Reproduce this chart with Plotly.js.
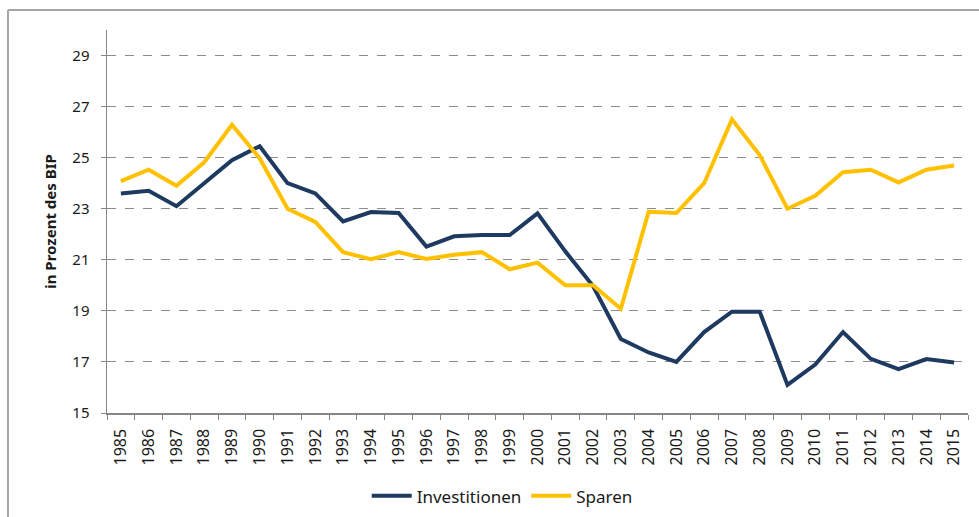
<!DOCTYPE html>
<html>
<head>
<meta charset="utf-8">
<script src="https://cdn.plot.ly/plotly-3.0.1.min.js"></script>
<style>html,body{margin:0;padding:0;background:#fff;}#chart{width:979px;height:517px;}</style>
</head>
<body>
<div id="chart"></div>
<script>
const years = ["1985","1986","1987","1988","1989","1990","1991","1992","1993","1994","1995","1996","1997","1998","1999","2000","2001","2002","2003","2004","2005","2006","2007","2008","2009","2010","2011","2012","2013","2014","2015"];
const investitionen = [23.6,23.7,23.1,24.0,24.9,25.45,24.0,23.6,22.5,22.87,22.83,21.52,21.92,21.97,21.97,22.82,21.33,19.97,17.9,17.37,17.0,18.17,18.97,18.97,16.1,16.9,18.17,17.12,16.72,17.11,16.98];
const sparen = [24.08,24.53,23.9,24.82,26.29,24.97,23.0,22.48,21.3,21.02,21.3,21.03,21.2,21.3,20.63,20.89,20.0,20.0,19.08,22.88,22.83,24.0,26.5,25.1,23.0,23.51,24.43,24.53,24.03,24.53,24.69];
const yTicks = [15,17,19,21,23,25,27,29];
const seriesNames = ["Investitionen","Sparen"];
const axisTitle = "in Prozent des BIP";

const fontFam = "Noto Sans, Open Sans, sans-serif";
const traces = [
  {x: years, y: investitionen, name: seriesNames[0], type: "scatter", mode: "lines",
   line: {color: "#1F3A60", width: 4}},
  {x: years, y: sparen, name: seriesNames[1], type: "scatter", mode: "lines",
   line: {color: "#FFC000", width: 4}}
];
const layout = {
  width: 979, height: 517,
  margin: {l: 107, r: 11, t: 30, b: 104},
  paper_bgcolor: "#fff", plot_bgcolor: "#fff",
  showlegend: true,
  legend: {orientation: "h", x: 0.459, xanchor: "center", yref: "container", y: 0.04, yanchor: "middle",
           font: {family: fontFam, size: 17, color: "#1a1a1a"}, itemwidth: 40, traceorder: "normal"},
  xaxis: {type: "category", range: [-0.5, 30.5], tickson: "boundaries", ticks: "outside", ticklen: 5,
          tickcolor: "#868686", tickwidth: 1, showline: true, linecolor: "#868686", linewidth: 1.5,
          showgrid: false, zeroline: false, tickangle: -90, ticklabelstandoff: 8, automargin: false,
          tickfont: {family: fontFam, size: 16, color: "#1a1a1a"}, fixedrange: true},
  yaxis: {range: [15, 30], tickvals: yTicks, ticktext: yTicks.map(String), ticks: "outside", ticklen: 5,
          tickcolor: "#868686", showline: true, linecolor: "#868686", linewidth: 1.5, automargin: false,
          showgrid: true, gridcolor: "#8c8c8c", griddash: "dash", gridwidth: 1, zeroline: false,
          tickfont: {family: fontFam, size: 15, color: "#1a1a1a"}, ticklabelstandoff: 8,
          title: {text: "<b>" + axisTitle + "</b>", font: {family: fontFam, size: 15, color: "#1a1a1a"}, standoff: 12}},
  shapes: [
    {type: "line", xref: "paper", yref: "paper", x0: -0.115, x1: -0.115, y0: -0.4, y1: 1.0522,
     line: {color: "#a6a6a6", width: 2}},
    {type: "line", xref: "paper", yref: "paper", x0: -0.115, x1: 1.2, y0: 1.0522, y1: 1.0522,
     line: {color: "#a6a6a6", width: 2}}
  ]
};
Plotly.newPlot("chart", traces, layout, {displayModeBar: false, staticPlot: true});
</script>
</body>
</html>
